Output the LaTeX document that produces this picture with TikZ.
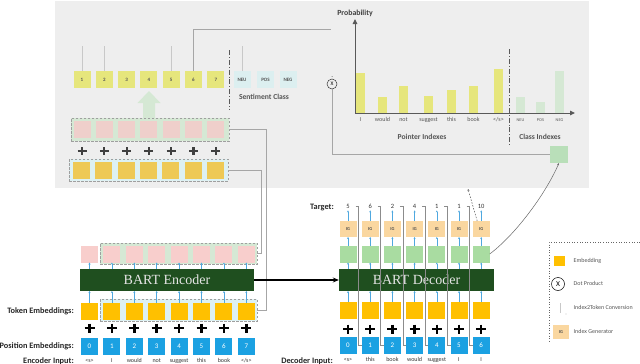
\documentclass[tikz,border=0pt]{standalone}
\usepackage{fontspec}
\setmainfont{Carlito}
\newfontfamily\bartfont{Liberation Serif}
\usetikzlibrary{arrows.meta}
\definecolor{panelgray}{HTML}{EEEEEE}
\definecolor{idxyellow}{HTML}{E6E67C}
\definecolor{sentblue}{HTML}{DCEFF0}
\definecolor{pinkA}{HTML}{EFCFCB}
\definecolor{pinkB}{HTML}{F8CECC}
\definecolor{lgreen}{HTML}{D5E8D4}
\definecolor{lblue}{HTML}{DDF1F3}
\definecolor{embA}{HTML}{EEC955}
\definecolor{embB}{HTML}{FFC000}
\definecolor{posblue}{HTML}{1BA1E2}
\definecolor{bartgreen}{HTML}{1F4F1F}
\definecolor{decgreen}{HTML}{A9DCA1}
\definecolor{igorange}{HTML}{FAD7A0}
\definecolor{clsgreen}{HTML}{B9DFB9}
\definecolor{arrblue}{HTML}{4FA8DF}
\definecolor{txtgray}{HTML}{555555}
\definecolor{linegray}{HTML}{8C8C8C}
\definecolor{palegray}{HTML}{C8C8C8}
\begin{document}
\begin{tikzpicture}[x=1pt,y=-1pt,
  sq/.style={minimum width=17pt,minimum height=17pt,inner sep=0pt,outer sep=0pt},
  dbox/.style={draw=gray!75,dashed,dash pattern=on 2.5pt off 1.5pt,line width=0.8pt,inner sep=0pt,outer sep=0pt},
  lbl/.style={font=\fontsize{8.3}{9}\selectfont\bfseries,text=black!85,inner sep=0pt},
  tiny/.style={font=\fontsize{6}{6.5}\selectfont,text=txtgray,inner sep=0.5pt,text height=4.2pt,text depth=1.2pt},
  tinier/.style={font=\fontsize{4.3}{5}\selectfont,text=txtgray,inner sep=0.5pt,text height=3pt,text depth=0.8pt},
  sarr/.style={draw=arrblue,line width=0.6pt,-{Stealth[length=2pt,width=2pt]}},
  plusA/.style={draw=black!75,line width=2.2pt},
  plusB/.style={draw=black,line width=2.5pt},
  ilink/.style={draw=linegray,line width=0.6pt},
  cline/.style={draw=gray!70,line width=0.9pt},
  pline/.style={draw=palegray,line width=1pt},
  dashdot/.style={draw=black!65,line width=0.8pt,dash pattern=on 5pt off 2pt on 0.8pt off 2pt},
  axis/.style={draw=black!65,line width=1pt,-{Triangle[length=5pt,width=4.5pt]}},
  sectlbl/.style={font=\fontsize{7.6}{8}\selectfont\bfseries,text=txtgray,inner sep=0pt},
  bart/.style={fill=bartgreen,inner sep=0pt,text=white!90!black,font=\bartfont\fontsize{14}{14}\selectfont}]
\useasboundingbox (0,0) rectangle (640,364);

% ---------- top panel ----------
\fill[panelgray] (55,1) rectangle (589,188);

\foreach \i in {1,...,7}{
  \node[sq,fill=idxyellow,font=\fontsize{5}{5}\selectfont\bfseries,text=txtgray] (t\i) at ({82+22.3*(\i-1)},79.5) {\i};
}
\node[sq,fill=sentblue,font=\fontsize{5}{5}\selectfont\bfseries,text=txtgray] (s1) at (242,79.5) {NEU};
\node[sq,fill=sentblue,font=\fontsize{5}{5}\selectfont\bfseries,text=txtgray] (s2) at (265.5,79.5) {POS};
\node[sq,fill=sentblue,font=\fontsize{5}{5}\selectfont\bfseries,text=txtgray] (s3) at (288,79.5) {NEG};
\node[sectlbl] (sentlbl) at (264,97) {Sentiment Class};

\draw[pline] (t1.north) -- ++(0,-25);
\draw[pline] (t2.north) -- ++(0,-25);
\draw[pline] (t5.north) -- ++(0,-25);
\draw[pline] (s1.north) -- ++(0,-25);
\coordinate (t6end) at (331,29);
\draw[cline] (t6.north) |- (t6end);

\draw[dashdot] (229,50) -- (229,110);

% big light green arrow
\fill[lgreen] (143,118) -- (143,103) -- (137.5,103) -- (149,91) -- (160.5,103) -- (155,103) -- (155,118) -- cycle;

% pink row (top)
\node[dbox,fill=lgreen,minimum width=158pt,minimum height=23pt] (ptop) at (150,129.5) {};
\foreach \i in {1,...,7}{
  \node[sq,fill=pinkA] (p\i) at ({82+22.3*(\i-1)},129.5) {};
  \draw[plusA] ({82+22.3*(\i-1)-4.5},151) -- ++(9,0) ({82+22.3*(\i-1)},147) -- ++(0,8);
}
% yellow row (top)
\node[dbox,fill=lblue,minimum width=159pt,minimum height=22pt] (ytop) at (148.5,170) {};
\foreach \i in {1,...,7}{
  \node[sq,fill=embA] (y\i) at ({81.5+22.3*(\i-1)},170) {};
}

% chart
\coordinate (o) at (355,113);
\coordinate (yend) at (355,19);
\coordinate (xend) at (575,113);
\foreach \xl/\yt in {356/73,378/97,399/86,424/96,447/90,469/86,494/69}{
  \fill[idxyellow] (\xl,\yt) rectangle ({\xl+9},112.5);
}
\foreach \xl/\yt in {516/97,536/102,555/71}{
  \fill[lgreen] (\xl,\yt) rectangle ({\xl+9},112.5);
}
\draw[axis] (o) -- (yend);
\draw[axis] (o) -- (xend);
\node[font=\fontsize{7.8}{8}\selectfont\bfseries,text=black!75,inner sep=0pt] (prob) at (355,13) {Probability};
\draw[dashdot] (509,49) -- (509,145);
\foreach \xc/\w in {360.5/I,382.5/would,403.5/not,428.5/suggest,451.5/this,473.5/book}{
  \node[tiny] at (\xc,120) {\w};
}
\node[tiny] (lend) at (498.5,120) {</s>};
\node[tinier] (lneu) at (520.5,120) {NEU};
\node[tinier] (lpos) at (540.5,120) {POS};
\node[tinier] (lneg) at (559.5,120) {NEG};
\node[sectlbl] (pilbl) at (422,137) {Pointer Indexes};
\node[sectlbl] (cilbl) at (540,137) {Class Indexes};

\node[circle,draw=black!80,line width=0.5pt,minimum size=10pt,inner sep=0pt,font=\fontsize{5.5}{5.5}\selectfont] (dot) at (332,84) {X};
\fill[black!60] (332,76.5) circle (0.5pt);
\node[sq,fill=clsgreen,minimum width=18pt] (cls) at (559,154.5) {};
\draw[cline] (dot.south) |- (cls.west);

% ---------- encoder ----------
\node[dbox,fill=lgreen,minimum width=157pt,minimum height=21pt] (eobox) at (178.5,253.5) {};
\node[bart,minimum width=174pt,minimum height=22pt] (enc) at (167,280) {BART Encoder};
\node[dbox,fill=lblue,minimum width=157pt,minimum height=22pt] (tebox) at (178.5,310) {};
\foreach \i/\w in {1/{<s>},2/I,3/would,4/not,5/suggest,6/this,7/book,8/{</s>}}{
  \pgfmathsetmacro\xx{89.5+22.4*(\i-1)}
  \pgfmathtruncatemacro\n{\i-1}
  \node[sq,fill=pinkB] (eo\i) at (\xx,254) {};
  \node[sq,fill=embB] (te\i) at (\xx,311) {};
  \node[sq,fill=posblue,text=white,font=\fontsize{7}{7}\selectfont] (pe\i) at (\xx,346) {\n};
  \node[tiny,text=black!80] (ei\i) at (\xx,361) {\w};
  \draw[plusB] ({\xx-5},328) -- ++(10,0) (\xx,323.5) -- ++(0,9);
  \draw[sarr] (\xx,269) -- (eo\i.south);
  \draw[sarr] (te\i.north) -- (\xx,291);
}
\node[lbl,anchor=east] (lte) at (74,311) {Token Embeddings:};
\node[lbl,anchor=east] (lpe) at (74,346) {Position Embeddings:};
\node[lbl,anchor=east] (lei) at (74,361) {Encoder Input:};

% connectors from top panel rows
\coordinate (k1) at (266,129.5);
\coordinate (k2) at (261,170);
\draw[cline,line width=0.7pt] (ptop.east) -- (k1) |- (tebox.east);
\draw[cline,line width=0.7pt] (ytop.east) -- (k2) |- (eobox.east);

% ---------- decoder ----------
\node[bart,minimum width=155pt,minimum height=22pt] (dec) at (416.5,280) {BART Decoder};
\draw[black,line width=1.6pt,-{Stealth[length=6pt,width=5pt]}] (enc.east) -- (dec.west);

\foreach \i/\t/\w in {1/5/{<s>},2/6/this,3/2/book,4/4/would,5/1/suggest,6/1/I,7/10/I}{
  \pgfmathsetmacro\xx{348+22.2*(\i-1)}
  \pgfmathtruncatemacro\n{\i-1}
  \node[sq,fill=decgreen] (dg\i) at (\xx,254) {};
  \node[sq,fill=igorange,minimum height=16pt,font=\fontsize{4.5}{5}\selectfont\bfseries,text=black!70] (ig\i) at (\xx,229) {IG};
  \node[tiny,text=black!80,font=\fontsize{6.5}{7}\selectfont] (tg\i) at (\xx,207) {\t};
  \node[sq,fill=embB] (dy\i) at (\xx,310.5) {};
  \node[sq,fill=posblue,text=white,font=\fontsize{7}{7}\selectfont] (dp\i) at (\xx,345.5) {\n};
  \node[tiny,text=black!80] (di\i) at (\xx,359.5) {\w};
  \draw[plusB] ({\xx-5},329) -- ++(10,0) (\xx,324.5) -- ++(0,9);
  \draw[sarr] (ig\i.north) -- (tg\i.south);
  \draw[sarr] (dg\i.north) -- (ig\i.south);
  \draw[sarr] (\xx,269) -- (dg\i.south);
  \draw[sarr] (dy\i.north) -- (\xx,291);
}
\foreach \i in {1,...,6}{
  \pgfmathtruncatemacro\j{\i+1}
  \draw[ilink] ({348+22.2*(\i-1)+7.5},206) -- ++(3,0) |- (dp\j.west);
}
\node[lbl,anchor=east] (ltg) at (334,207.5) {Target:};
\node[lbl,anchor=east] (ldi) at (333,361) {Decoder Input:};

\coordinate (dtip) at (468,189);
\draw[black!70,line width=0.5pt,dashed,dash pattern=on 1.5pt off 1.5pt,-{Stealth[length=2pt,width=2pt]}] ([xshift=-4pt]ig7.north) -- (dtip);
\draw[black!60,line width=0.5pt,-{Stealth[length=2.5pt,width=2pt]}] (dg7.east) .. controls (515,235) and (545,195) .. (cls.south);

% ---------- legend ----------
\draw[black!60,line width=0.6pt,dotted] (640,242) -- (549,242) -- (549,343);
\node[sq,fill=embB,minimum width=11pt,minimum height=10pt] (lg1) at (559.5,261) {};
\node[tiny,anchor=west] (lg1t) at (573,261) {Embedding};
\node[circle,draw=black,line width=0.5pt,minimum size=13pt,inner sep=0pt,font=\fontsize{7.5}{7.5}\selectfont] (lg2) at (558,284) {X};
\node[tiny,anchor=west] (lg2t) at (573,284) {Dot Product};
\draw[palegray,line width=0.8pt] (560,303) -- (560,313);
\fill[black!60] (566,314) circle (0.45pt);
\node[tiny,anchor=west] (lg3t) at (573,308) {Index2Token Conversion};
\node[sq,fill=igorange,minimum width=16pt,minimum height=14pt,font=\fontsize{4.5}{5}\selectfont\bfseries,text=black!70] (lg4) at (561,332) {IG};
\node[tiny,anchor=west] (lg4t) at (573,332) {Index Generator};
\end{tikzpicture}
\end{document}
